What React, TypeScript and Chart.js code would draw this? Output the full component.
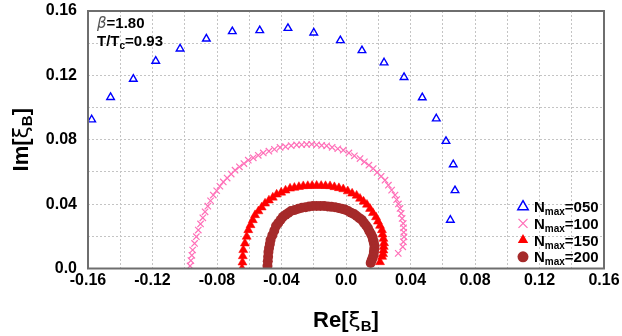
import React, { useEffect, useRef } from "react";
import { Chart, registerables } from "chart.js";

Chart.register(...registerables);

const FONT = '"Liberation Sans", Arial, sans-serif';

const xTickLabels = ["-0.16", "-0.12", "-0.08", "-0.04", "0.0", "0.04", "0.08", "0.12", "0.16"];
const yTickLabels = ["0.0", "0.04", "0.08", "0.12", "0.16"];
const legendLabels = ["050", "100", "150", "200"];
const betaText = "1.80";
const tempText = "0.93";

const nmax050: [number, number][] = [
  [-0.1577, 0.0925], [-0.146, 0.1064], [-0.1319, 0.1177], [-0.118, 0.1289], [-0.1029, 0.1365],
  [-0.0866, 0.1427], [-0.0705, 0.1473], [-0.0535, 0.1479], [-0.036, 0.1493], [-0.020, 0.1465],
  [-0.0035, 0.1417], [0.0099, 0.1355], [0.0236, 0.1279], [0.036, 0.1188], [0.0473, 0.1062],
  [0.056, 0.0931], [0.062, 0.0791], [0.0665, 0.0646], [0.0676, 0.0485], [0.0647, 0.0301],
];

const nmax100: [number, number][] = [
  [-0.0967, 0.0016], [-0.0962, 0.0049], [-0.0956, 0.0082],
  [-0.0951, 0.0115], [-0.0939, 0.0156], [-0.0928, 0.0198],
  [-0.0916, 0.0239], [-0.0902, 0.0277], [-0.0888, 0.0315],
  [-0.0874, 0.0352], [-0.0857, 0.0387], [-0.0840, 0.0421],
  [-0.0823, 0.0456], [-0.0802, 0.0483], [-0.0782, 0.0511],
  [-0.0761, 0.0538], [-0.0737, 0.0562], [-0.0712, 0.0587],
  [-0.0688, 0.0611], [-0.0661, 0.0632], [-0.0633, 0.0652],
  [-0.0606, 0.0673], [-0.0575, 0.0688], [-0.0544, 0.0703],
  [-0.0513, 0.0718], [-0.0478, 0.0729], [-0.0444, 0.0741],
  [-0.0409, 0.0752], [-0.0375, 0.0757], [-0.0340, 0.0763],
  [-0.0306, 0.0768], [-0.0275, 0.0769], [-0.0244, 0.0771],
  [-0.0213, 0.0772], [-0.0182, 0.0769], [-0.0151, 0.0765],
  [-0.0120, 0.0762], [-0.0086, 0.0753], [-0.0051, 0.0744],
  [-0.0017, 0.0735], [0.0018, 0.0718], [0.0052, 0.0700],
  [0.0087, 0.0683], [0.0114, 0.0663], [0.0142, 0.0642],
  [0.0169, 0.0621], [0.0193, 0.0597], [0.0218, 0.0573],
  [0.0242, 0.0549], [0.0263, 0.0518], [0.0283, 0.0487],
  [0.0304, 0.0456], [0.0314, 0.0428], [0.0325, 0.0401],
  [0.0335, 0.0373], [0.0342, 0.0342], [0.0348, 0.0311],
  [0.0355, 0.0280], [0.0357, 0.0253], [0.0358, 0.0225],
  [0.0360, 0.0197], [0.0356, 0.0166],
  [0.0352, 0.0135], [0.0324, 0.0094],
];

const nmax150: [number, number][] = [
  [-0.0645, 0.0000], [-0.0642, 0.0038], [-0.0640, 0.0077], [-0.0637, 0.0115], [-0.0627, 0.0156],
  [-0.0616, 0.0198], [-0.0606, 0.0239], [-0.0592, 0.0270], [-0.0578, 0.0301], [-0.0564, 0.0332],
  [-0.0543, 0.0356], [-0.0523, 0.0380], [-0.0502, 0.0404], [-0.0478, 0.0423], [-0.0454, 0.0441],
  [-0.0430, 0.0460], [-0.0402, 0.0472], [-0.0375, 0.0485], [-0.0347, 0.0497], [-0.0320, 0.0502],
  [-0.0292, 0.0507], [-0.0265, 0.0512], [-0.0237, 0.0513], [-0.0210, 0.0514], [-0.0182, 0.0515],
  [-0.0154, 0.0514], [-0.0127, 0.0513], [-0.0099, 0.0512], [-0.0072, 0.0506], [-0.0044, 0.0500],
  [-0.0017, 0.0493], [0.0011, 0.0480], [0.0038, 0.0466], [0.0066, 0.0453], [0.0087, 0.0434],
  [0.0109, 0.0416], [0.0130, 0.0397], [0.0149, 0.0371], [0.0167, 0.0345], [0.0186, 0.0319],
  [0.0198, 0.0292], [0.0211, 0.0266], [0.0223, 0.0239], [0.0227, 0.0212], [0.0232, 0.0185],
  [0.0236, 0.0158], [0.0234, 0.0135], [0.0232, 0.0113], [0.0230, 0.0090], [0.0224, 0.0073],
  [0.0211, 0.0040],
];

const nmax200: [number, number][] = [
  [-0.0487, 0.0016], [-0.0485, 0.0045], [-0.0483, 0.0073],
  [-0.0481, 0.0102], [-0.0477, 0.0127], [-0.0472, 0.0152],
  [-0.0468, 0.0177], [-0.0457, 0.0206], [-0.0445, 0.0235],
  [-0.0434, 0.0264], [-0.0420, 0.0283], [-0.0405, 0.0303],
  [-0.0391, 0.0322], [-0.0374, 0.0334], [-0.0358, 0.0345],
  [-0.0341, 0.0357], [-0.0318, 0.0364], [-0.0296, 0.0371],
  [-0.0273, 0.0378], [-0.0250, 0.0381], [-0.0228, 0.0385],
  [-0.0205, 0.0388], [-0.0182, 0.0388], [-0.0159, 0.0388],
  [-0.0136, 0.0388], [-0.0113, 0.0386], [-0.0091, 0.0383],
  [-0.0068, 0.0381], [-0.0047, 0.0376], [-0.0027, 0.0371],
  [-0.0006, 0.0366], [0.0013, 0.0357], [0.0031, 0.0347],
  [0.0050, 0.0338], [0.0066, 0.0326], [0.0083, 0.0313],
  [0.0099, 0.0301], [0.0111, 0.0284], [0.0124, 0.0268],
  [0.0136, 0.0251], [0.0145, 0.0232], [0.0155, 0.0214],
  [0.0164, 0.0195], [0.0168, 0.0177], [0.0173, 0.0158],
  [0.0177, 0.0140], [0.0175, 0.0121], [0.0173, 0.0102],
  [0.0171, 0.0084], [0.0165, 0.0067], [0.0159, 0.0051],
  [0.0153, 0.0034],
];

const BLUE = "#0000ff";
const PINK = "#ff6fb8";
const RED = "#ff0000";
const BROWN = "#a52a2a";
const FRAME = "#6e6e6e";

type Run = { t: string; font: string; dy?: number; color?: string };

function drawRuns(ctx: CanvasRenderingContext2D, runs: Run[], x: number, y: number, align: "left" | "center") {
  let total = 0;
  const widths = runs.map((r) => {
    ctx.font = r.font;
    const w = ctx.measureText(r.t).width;
    total += w;
    return w;
  });
  let cx = align === "center" ? x - total / 2 : x;
  ctx.textAlign = "left";
  ctx.textBaseline = "alphabetic";
  runs.forEach((r, i) => {
    ctx.font = r.font;
    ctx.fillStyle = r.color || "#000";
    ctx.fillText(r.t, cx, y + (r.dy || 0));
    cx += widths[i];
  });
}

function marker(ctx: CanvasRenderingContext2D, kind: number, x: number, y: number) {
  ctx.save();
  if (kind === 0 || kind === 2) {
    const r = 6;
    ctx.beginPath();
    ctx.moveTo(x, y - r);
    ctx.lineTo(x + r * 0.866, y + r * 0.5);
    ctx.lineTo(x - r * 0.866, y + r * 0.5);
    ctx.closePath();
    if (kind === 0) {
      ctx.strokeStyle = BLUE;
      ctx.lineWidth = 1.5;
      ctx.stroke();
    } else {
      ctx.fillStyle = RED;
      ctx.fill();
    }
  } else if (kind === 1) {
    const d = 4.5;
    ctx.strokeStyle = PINK;
    ctx.lineWidth = 1.3;
    ctx.beginPath();
    ctx.moveTo(x - d, y - d);
    ctx.lineTo(x + d, y + d);
    ctx.moveTo(x + d, y - d);
    ctx.lineTo(x - d, y + d);
    ctx.stroke();
  } else {
    ctx.fillStyle = BROWN;
    ctx.beginPath();
    ctx.arc(x, y, 5.5, 0, Math.PI * 2);
    ctx.fill();
  }
  ctx.restore();
}

const decor = {
  id: "decor",
  afterDraw(chart: any) {
    const ctx: CanvasRenderingContext2D = chart.ctx;
    const a = chart.chartArea;
    ctx.save();
    ctx.strokeStyle = FRAME;
    ctx.lineWidth = 2;
    ctx.strokeRect(a.left, a.top, a.right - a.left, a.bottom - a.top);

    const B = `bold 15px ${FONT}`;
    const S = `bold 10px ${FONT}`;
    drawRuns(ctx, [
      { t: "β", font: `italic 15px "DejaVu Sans", ${FONT}`, color: "#555" },
      { t: "=" + betaText, font: B },
    ], a.left + 9, a.top + 17, "left");
    drawRuns(ctx, [
      { t: "T/T", font: B },
      { t: "c", font: S, dy: 3 },
      { t: "=" + tempText, font: B },
    ], a.left + 9, a.top + 35, "left");

    legendLabels.forEach((lab, i) => {
      const cy = 206.7 + i * 16.7;
      marker(ctx, i, 523, cy);
      drawRuns(ctx, [
        { t: "N", font: B },
        { t: "max", font: S, dy: 3 },
        { t: "=" + lab, font: B },
      ], 534, cy + 5.5, "left");
    });

    const T = `bold 22px ${FONT}`;
    const TX = `22px "DejaVu Sans", ${FONT}`;
    const TS = `bold 15px ${FONT}`;
    drawRuns(ctx, [
      { t: "Re[", font: T },
      { t: "ξ", font: TX },
      { t: "B", font: TS, dy: 4 },
      { t: "]", font: T },
    ], (a.left + a.right) / 2, 327, "center");
    ctx.save();
    ctx.translate(28, (a.top + a.bottom) / 2);
    ctx.rotate(-Math.PI / 2);
    drawRuns(ctx, [
      { t: "Im[", font: T },
      { t: "ξ", font: TX },
      { t: "B", font: TS, dy: 4 },
      { t: "]", font: T },
    ], 0, 0, "center");
    ctx.restore();
    ctx.restore();
  },
};

export default function App() {
  const ref = useRef<HTMLCanvasElement>(null);
  useEffect(() => {
    document.body.style.margin = "0";
    const toPts = (arr: [number, number][]) => arr.map(([x, y]) => ({ x, y }));
    const chart = new Chart(ref.current!, {
      type: "scatter",
      data: {
        datasets: [
          {
            label: "Nmax=050",
            data: toPts(nmax050),
            pointStyle: "triangle",
            pointRadius: 4.4,
            borderColor: BLUE,
            backgroundColor: "rgba(0,0,0,0)",
            borderWidth: 1.4,
          },
          {
            label: "Nmax=100",
            data: toPts(nmax100),
            pointStyle: "crossRot",
            pointRadius: 4.5,
            borderColor: PINK,
            backgroundColor: PINK,
            borderWidth: 1.2,
          },
          {
            label: "Nmax=150",
            data: toPts(nmax150),
            pointStyle: "triangle",
            pointRadius: 5.2,
            borderColor: RED,
            backgroundColor: RED,
            borderWidth: 0.5,
          },
          {
            label: "Nmax=200",
            data: toPts(nmax200),
            pointStyle: "circle",
            pointRadius: 5,
            borderColor: BROWN,
            backgroundColor: BROWN,
            borderWidth: 0,
          },
        ],
      },
      options: {
        animation: false,
        responsive: true,
        maintainAspectRatio: false,
        layout: { padding: { top: 11, right: 18, left: 0, bottom: 0 } },
        plugins: { legend: { display: false }, tooltip: { enabled: false } },
        scales: {
          x: {
            type: "linear",
            min: -0.16,
            max: 0.16,
            afterFit: (s: any) => {
              s.height = 67.5;
              s.paddingLeft = 0;
              s.paddingRight = 0;
            },
            ticks: {
              stepSize: 0.02,
              autoSkip: false,
              maxRotation: 0,
              padding: 2,
              color: "#000",
              font: { family: FONT, weight: "bold", size: 16 },
              callback: (v: any) => {
                const k = Math.round(Number(v) * 100);
                if (k % 4 !== 0) return "";
                return xTickLabels[(k + 16) / 4];
              },
            },
            grid: { color: "#c4c4c4", lineWidth: 1, drawTicks: false },
            border: { display: false, dash: [2, 2] },
          },
          y: {
            type: "linear",
            min: 0,
            max: 0.16,
            afterFit: (s: any) => {
              s.width = 88;
              s.paddingTop = 0;
              s.paddingBottom = 0;
            },
            ticks: {
              stepSize: 0.02,
              autoSkip: false,
              padding: 11,
              color: "#000",
              font: { family: FONT, weight: "bold", size: 16 },
              callback: (v: any) => {
                const k = Math.round(Number(v) * 100);
                if (k % 4 !== 0) return "";
                return yTickLabels[k / 4];
              },
            },
            grid: { color: "#c4c4c4", lineWidth: 1, drawTicks: false },
            border: { display: false, dash: [2, 2] },
          },
        },
      },
      plugins: [decor],
    });
    return () => chart.destroy();
  }, []);
  return (
    <div style={{ width: 622, height: 336, position: "relative" }}>
      <canvas ref={ref} />
    </div>
  );
}
